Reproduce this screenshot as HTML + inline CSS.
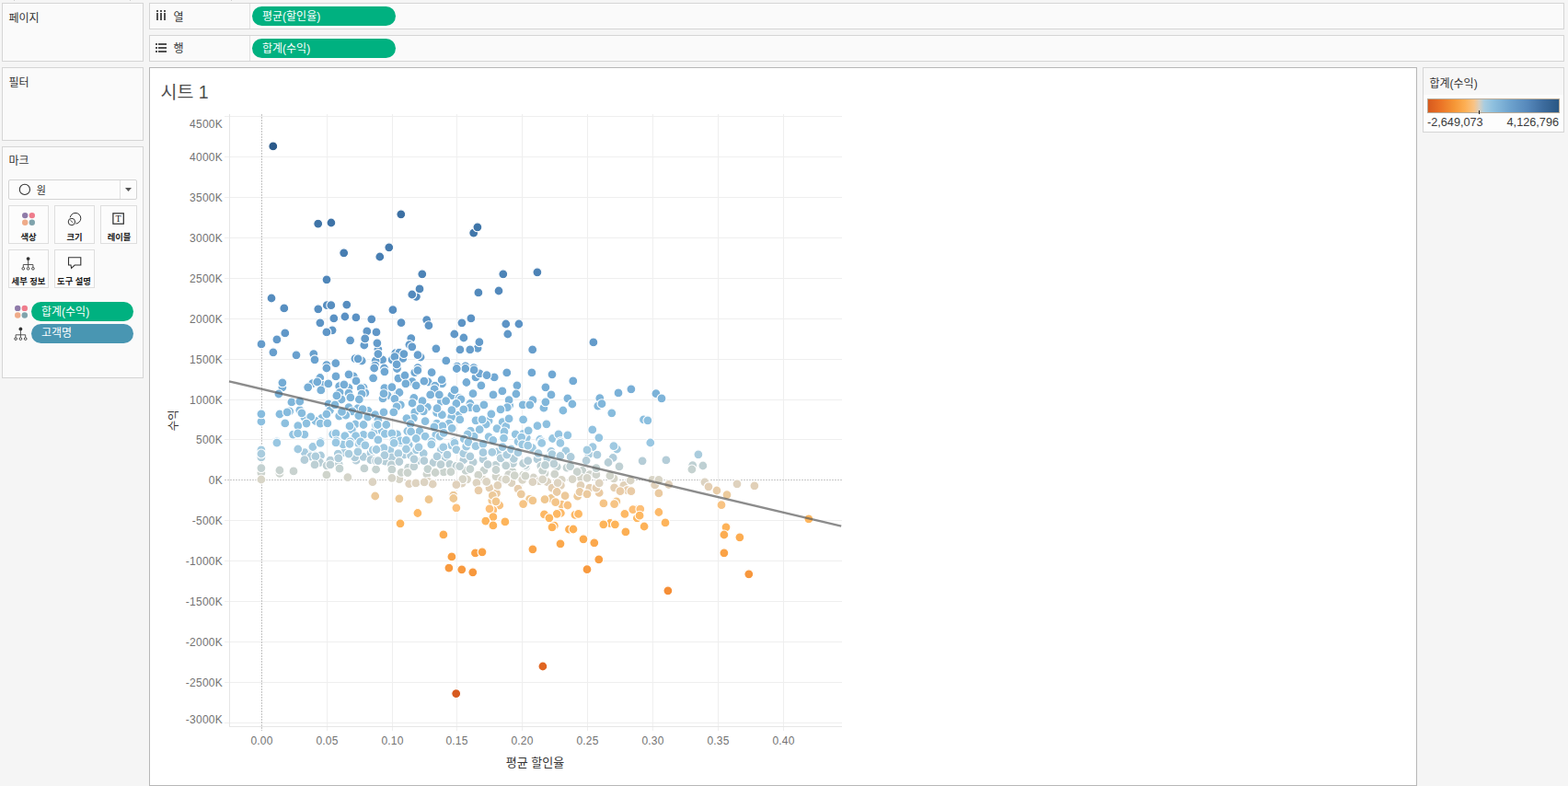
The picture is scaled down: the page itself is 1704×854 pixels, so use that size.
<!DOCTYPE html><html><head><meta charset="utf-8"><title>Tableau</title><style>
html,body{margin:0;padding:0}
body{width:1704px;height:854px;background:#f5f5f5;position:relative;overflow:hidden;font-family:"Liberation Sans","Noto Sans CJK KR",sans-serif;color:#333}
.p{position:absolute;box-sizing:border-box;background:#fafafa;border:1px solid #d5d5d5}
.btn{position:absolute;box-sizing:border-box;width:44px;height:42px;background:#fcfcfc;border:1px solid #dedede}
.pill{position:absolute;border-radius:11px}
svg{position:absolute;left:0;top:0}
text{font-family:"Liberation Sans","Noto Sans CJK KR",sans-serif}

</style></head><body>
<div class="p" style="left:2px;top:3px;width:154px;height:64px;"></div>
<div class="p" style="left:2px;top:73px;width:154px;height:80px;"></div>
<div class="p" style="left:2px;top:159px;width:154px;height:252px;"></div>
<div class="p" style="left:162px;top:3px;width:1538px;height:29px;"></div>
<div class="p" style="left:162px;top:38px;width:1538px;height:29px;"></div>
<div style="position:absolute;left:271px;top:4px;width:1px;height:27px;background:#e1e1e1"></div>
<div style="position:absolute;left:271px;top:39px;width:1px;height:27px;background:#e1e1e1"></div>
<div class="p" style="left:162px;top:73px;width:1378px;height:781px;background:#fff;border-color:#b7b7b7"></div>
<div class="p" style="left:1546px;top:73px;width:154px;height:71px;background:#fdfdfd"></div>
<div style="position:absolute;left:1547px;top:74px;width:152px;height:29px;background:#f7f7f7"></div>
<div style="position:absolute;left:15px;top:0;width:1px;height:1px;background:#cfcfcf"></div>
<div style="position:absolute;left:141px;top:0;width:1px;height:1px;background:#cfcfcf"></div>
<div style="position:absolute;left:251px;top:0;width:1px;height:1px;background:#cfcfcf"></div>
<div class="pill" style="left:274px;top:7px;width:156px;height:21px;background:#00b180;border-radius:10.5px"></div>
<div class="pill" style="left:274px;top:42px;width:156px;height:21px;background:#00b180;border-radius:10.5px"></div>
<div class="pill" style="left:34px;top:328px;width:111px;height:21px;background:#00b180;border-radius:10.5px"></div>
<div class="pill" style="left:34px;top:352px;width:111px;height:21px;background:#4996b2;border-radius:10.5px"></div>
<div style="position:absolute;box-sizing:border-box;left:9px;top:195px;width:140px;height:22px;background:#fcfcfc;border:1px solid #d4d4d4;border-radius:2px"></div>
<div style="position:absolute;left:130px;top:196px;width:1px;height:20px;background:#e0e0e0"></div>
<div class="btn" style="left:9px;top:223px;width:44px"></div>
<div class="btn" style="left:59px;top:223px;width:44px"></div>
<div class="btn" style="left:109px;top:223px;width:40px"></div>
<div class="btn" style="left:9px;top:271px;width:44px"></div>
<div class="btn" style="left:59px;top:271px;width:44px"></div>
<div style="position:absolute;box-sizing:border-box;left:1551px;top:107px;width:144px;height:16px;border:1px solid #b9ab98;background:linear-gradient(to right,#d75a1e 0%,#ea7125 9%,#f59636 20%,#fdae52 28%,#f9c384 35%,#d9cfbf 39.1%,#a9cde0 43%,#8dbfde 50%,#6da2cd 63%,#5688bb 76%,#3d6c9e 88%,#2a5783 100%)"></div>
<div style="position:absolute;left:1607px;top:120px;width:1px;height:4px;background:#222"></div>
<svg width="1704" height="854" viewBox="0 0 1704 854">
<path d="M244 785.5H915" stroke="#efefef" stroke-width="1"/>
<path d="M244 741.5H915" stroke="#efefef" stroke-width="1"/>
<path d="M244 697.5H915" stroke="#efefef" stroke-width="1"/>
<path d="M244 653.5H915" stroke="#efefef" stroke-width="1"/>
<path d="M244 609.5H915" stroke="#efefef" stroke-width="1"/>
<path d="M244 565.5H915" stroke="#efefef" stroke-width="1"/>
<path d="M244 477.5H915" stroke="#efefef" stroke-width="1"/>
<path d="M244 434.5H915" stroke="#efefef" stroke-width="1"/>
<path d="M244 390.5H915" stroke="#efefef" stroke-width="1"/>
<path d="M244 346.5H915" stroke="#efefef" stroke-width="1"/>
<path d="M244 302.5H915" stroke="#efefef" stroke-width="1"/>
<path d="M244 258.5H915" stroke="#efefef" stroke-width="1"/>
<path d="M244 214.5H915" stroke="#efefef" stroke-width="1"/>
<path d="M244 170.5H915" stroke="#efefef" stroke-width="1"/>
<path d="M244 126.5H915" stroke="#efefef" stroke-width="1"/>
<path d="M355.5 124V794" stroke="#efefef" stroke-width="1"/>
<path d="M426.5 124V794" stroke="#efefef" stroke-width="1"/>
<path d="M496.5 124V794" stroke="#efefef" stroke-width="1"/>
<path d="M567.5 124V794" stroke="#efefef" stroke-width="1"/>
<path d="M638.5 124V794" stroke="#efefef" stroke-width="1"/>
<path d="M709.5 124V794" stroke="#efefef" stroke-width="1"/>
<path d="M780.5 124V794" stroke="#efefef" stroke-width="1"/>
<path d="M851.5 124V794" stroke="#efefef" stroke-width="1"/>
<path d="M249.5 124V789" stroke="#e6e6e6" stroke-width="1"/>
<path d="M249 789.5H915" stroke="#e6e6e6" stroke-width="1"/>
<path d="M284.5 124V794" stroke="#c2c2c2" stroke-width="1" stroke-dasharray="2 1"/>
<path d="M244 521.5H915" stroke="#c8c8c8" stroke-width="1" stroke-dasharray="2 1"/>
<text x="242" y="785.6" font-size="12" fill="#737373" text-anchor="end" letter-spacing="0.25">-3000K</text>
<text x="242" y="746.1" font-size="12" fill="#737373" text-anchor="end" letter-spacing="0.25">-2500K</text>
<text x="242" y="702.1" font-size="12" fill="#737373" text-anchor="end" letter-spacing="0.25">-2000K</text>
<text x="242" y="658.1" font-size="12" fill="#737373" text-anchor="end" letter-spacing="0.25">-1500K</text>
<text x="242" y="614.1" font-size="12" fill="#737373" text-anchor="end" letter-spacing="0.25">-1000K</text>
<text x="242" y="570.1" font-size="12" fill="#737373" text-anchor="end" letter-spacing="0.25">-500K</text>
<text x="242" y="526.1" font-size="12" fill="#737373" text-anchor="end" letter-spacing="0.25">0K</text>
<text x="242" y="482.1" font-size="12" fill="#737373" text-anchor="end" letter-spacing="0.25">500K</text>
<text x="242" y="439.1" font-size="12" fill="#737373" text-anchor="end" letter-spacing="0.25">1000K</text>
<text x="242" y="395.1" font-size="12" fill="#737373" text-anchor="end" letter-spacing="0.25">1500K</text>
<text x="242" y="351.1" font-size="12" fill="#737373" text-anchor="end" letter-spacing="0.25">2000K</text>
<text x="242" y="307.1" font-size="12" fill="#737373" text-anchor="end" letter-spacing="0.25">2500K</text>
<text x="242" y="263.1" font-size="12" fill="#737373" text-anchor="end" letter-spacing="0.25">3000K</text>
<text x="242" y="219.1" font-size="12" fill="#737373" text-anchor="end" letter-spacing="0.25">3500K</text>
<text x="242" y="175.1" font-size="12" fill="#737373" text-anchor="end" letter-spacing="0.25">4000K</text>
<text x="242" y="138.6" font-size="12" fill="#737373" text-anchor="end" letter-spacing="0.25">4500K</text>
<text x="284.5" y="809" font-size="12" fill="#737373" text-anchor="middle" letter-spacing="0.2">0.00</text>
<text x="355.5" y="809" font-size="12" fill="#737373" text-anchor="middle" letter-spacing="0.2">0.05</text>
<text x="426.5" y="809" font-size="12" fill="#737373" text-anchor="middle" letter-spacing="0.2">0.10</text>
<text x="496.5" y="809" font-size="12" fill="#737373" text-anchor="middle" letter-spacing="0.2">0.15</text>
<text x="567.5" y="809" font-size="12" fill="#737373" text-anchor="middle" letter-spacing="0.2">0.20</text>
<text x="638.5" y="809" font-size="12" fill="#737373" text-anchor="middle" letter-spacing="0.2">0.25</text>
<text x="709.5" y="809" font-size="12" fill="#737373" text-anchor="middle" letter-spacing="0.2">0.30</text>
<text x="780.5" y="809" font-size="12" fill="#737373" text-anchor="middle" letter-spacing="0.2">0.35</text>
<text x="851.5" y="809" font-size="12" fill="#737373" text-anchor="middle" letter-spacing="0.2">0.40</text>
<g stroke="#fff" stroke-width="1.1">
<circle cx="514.7" cy="253.1" r="4.95" fill="#4177aa"/>
<circle cx="355.3" cy="331.7" r="4.95" fill="#578ec0"/>
<circle cx="452.4" cy="322.3" r="4.95" fill="#548bbe"/>
<circle cx="463.7" cy="347.6" r="4.95" fill="#5c93c4"/>
<circle cx="361.1" cy="358.8" r="4.95" fill="#5f97c7"/>
<circle cx="340.8" cy="384.6" r="4.95" fill="#68a0cd"/>
<circle cx="398.8" cy="359.9" r="4.95" fill="#6097c7"/>
<circle cx="395.8" cy="375.0" r="4.95" fill="#659ccb"/>
<circle cx="410.9" cy="379.5" r="4.95" fill="#679ecc"/>
<circle cx="415.6" cy="390.8" r="4.95" fill="#6aa2cf"/>
<circle cx="408.1" cy="392.0" r="4.95" fill="#6ba3cf"/>
<circle cx="385.9" cy="389.7" r="4.95" fill="#6aa2cf"/>
<circle cx="393.2" cy="392.0" r="4.95" fill="#6ba3cf"/>
<circle cx="446.8" cy="367.6" r="4.95" fill="#629ac9"/>
<circle cx="444.9" cy="374.6" r="4.95" fill="#659ccb"/>
<circle cx="429.8" cy="383.6" r="4.95" fill="#68a0cd"/>
<circle cx="433.9" cy="383.2" r="4.95" fill="#689fcd"/>
<circle cx="426.1" cy="390.8" r="4.95" fill="#6aa2cf"/>
<circle cx="437.8" cy="389.4" r="4.95" fill="#6aa2cf"/>
<circle cx="457.1" cy="388.0" r="4.95" fill="#69a1ce"/>
<circle cx="417.5" cy="400.0" r="4.95" fill="#6ea5d1"/>
<circle cx="519.1" cy="378.3" r="4.95" fill="#669ecc"/>
<circle cx="306.9" cy="420.8" r="4.95" fill="#77aed6"/>
<circle cx="283.9" cy="458.0" r="4.95" fill="#8cbfdf"/>
<circle cx="314.7" cy="446.9" r="4.95" fill="#86bbdd"/>
<circle cx="325.8" cy="445.7" r="4.95" fill="#85badd"/>
<circle cx="330.9" cy="453.5" r="4.95" fill="#89bede"/>
<circle cx="318.5" cy="472.1" r="4.95" fill="#94c4e1"/>
<circle cx="330.9" cy="472.1" r="4.95" fill="#94c4e1"/>
<circle cx="347.8" cy="410.5" r="4.95" fill="#72aad4"/>
<circle cx="339.6" cy="416.7" r="4.95" fill="#75add5"/>
<circle cx="351.3" cy="418.3" r="4.95" fill="#76add6"/>
<circle cx="384.2" cy="408.9" r="4.95" fill="#71a9d3"/>
<circle cx="387.0" cy="413.9" r="4.95" fill="#74abd5"/>
<circle cx="368.7" cy="419.7" r="4.95" fill="#77aed6"/>
<circle cx="379.0" cy="421.4" r="4.95" fill="#78afd7"/>
<circle cx="395.0" cy="421.1" r="4.95" fill="#78afd6"/>
<circle cx="396.9" cy="426.8" r="4.95" fill="#7bb1d8"/>
<circle cx="369.2" cy="426.3" r="4.95" fill="#7ab1d8"/>
<circle cx="371.1" cy="434.0" r="4.95" fill="#7fb5da"/>
<circle cx="379.0" cy="427.2" r="4.95" fill="#7bb2d8"/>
<circle cx="357.0" cy="439.0" r="4.95" fill="#81b7db"/>
<circle cx="379.0" cy="442.7" r="4.95" fill="#83b9dc"/>
<circle cx="388.9" cy="443.7" r="4.95" fill="#84b9dc"/>
<circle cx="400.2" cy="446.5" r="4.95" fill="#85bbdd"/>
<circle cx="382.8" cy="446.9" r="4.95" fill="#86bbdd"/>
<circle cx="368.7" cy="452.1" r="4.95" fill="#89bdde"/>
<circle cx="375.8" cy="451.2" r="4.95" fill="#88bdde"/>
<circle cx="358.4" cy="446.0" r="4.95" fill="#85bbdd"/>
<circle cx="349.5" cy="454.5" r="4.95" fill="#8abede"/>
<circle cx="342.9" cy="457.3" r="4.95" fill="#8bbfdf"/>
<circle cx="348.1" cy="460.1" r="4.95" fill="#8dc0df"/>
<circle cx="386.1" cy="461.0" r="4.95" fill="#8dc0df"/>
<circle cx="382.3" cy="466.7" r="4.95" fill="#91c2e0"/>
<circle cx="361.7" cy="471.8" r="4.95" fill="#93c4e1"/>
<circle cx="395.0" cy="472.3" r="4.95" fill="#94c4e1"/>
<circle cx="407.7" cy="467.6" r="4.95" fill="#91c3e0"/>
<circle cx="431.5" cy="400.5" r="4.95" fill="#6ea6d1"/>
<circle cx="432.9" cy="411.1" r="4.95" fill="#72aad4"/>
<circle cx="448.0" cy="414.6" r="4.95" fill="#74acd5"/>
<circle cx="452.2" cy="418.8" r="4.95" fill="#76aed6"/>
<circle cx="450.8" cy="404.7" r="4.95" fill="#6fa7d2"/>
<circle cx="465.2" cy="415.0" r="4.95" fill="#74acd5"/>
<circle cx="480.4" cy="416.9" r="4.95" fill="#75add5"/>
<circle cx="472.8" cy="419.2" r="4.95" fill="#77aed6"/>
<circle cx="490.9" cy="429.6" r="4.95" fill="#7cb3d9"/>
<circle cx="417.9" cy="421.6" r="4.95" fill="#78afd7"/>
<circle cx="421.2" cy="429.6" r="4.95" fill="#7cb3d9"/>
<circle cx="416.0" cy="432.9" r="4.95" fill="#7eb4d9"/>
<circle cx="432.5" cy="427.7" r="4.95" fill="#7bb2d8"/>
<circle cx="434.0" cy="426.5" r="4.95" fill="#7bb1d8"/>
<circle cx="435.3" cy="439.9" r="4.95" fill="#82b8db"/>
<circle cx="449.8" cy="432.4" r="4.95" fill="#7eb4d9"/>
<circle cx="464.4" cy="442.3" r="4.95" fill="#83b9dc"/>
<circle cx="450.8" cy="447.9" r="4.95" fill="#86bbdd"/>
<circle cx="460.2" cy="446.9" r="4.95" fill="#86bbdd"/>
<circle cx="474.7" cy="448.4" r="4.95" fill="#86bcdd"/>
<circle cx="480.4" cy="450.7" r="4.95" fill="#88bdde"/>
<circle cx="479.4" cy="436.2" r="4.95" fill="#80b6da"/>
<circle cx="499.1" cy="432.4" r="4.95" fill="#7eb4d9"/>
<circle cx="501.0" cy="433.8" r="4.95" fill="#7fb5da"/>
<circle cx="497.7" cy="451.2" r="4.95" fill="#88bdde"/>
<circle cx="490.7" cy="453.1" r="4.95" fill="#89bede"/>
<circle cx="510.9" cy="438.5" r="4.95" fill="#81b7db"/>
<circle cx="510.9" cy="442.7" r="4.95" fill="#83b9dc"/>
<circle cx="517.0" cy="409.9" r="4.95" fill="#71a9d4"/>
<circle cx="521.2" cy="405.8" r="4.95" fill="#70a7d3"/>
<circle cx="537.2" cy="409.9" r="4.95" fill="#71a9d4"/>
<circle cx="553.6" cy="440.4" r="4.95" fill="#82b8db"/>
<circle cx="517.0" cy="456.8" r="4.95" fill="#8bbfdf"/>
<circle cx="531.1" cy="457.3" r="4.95" fill="#8bbfdf"/>
<circle cx="528.2" cy="461.0" r="4.95" fill="#8dc0df"/>
<circle cx="546.1" cy="458.7" r="4.95" fill="#8cc0df"/>
<circle cx="549.8" cy="463.4" r="4.95" fill="#8fc1e0"/>
<circle cx="511.3" cy="468.1" r="4.95" fill="#91c3e0"/>
<circle cx="515.1" cy="474.2" r="4.95" fill="#95c5e1"/>
<circle cx="487.9" cy="460.1" r="4.95" fill="#8dc0df"/>
<circle cx="474.7" cy="460.1" r="4.95" fill="#8dc0df"/>
<circle cx="449.4" cy="454.5" r="4.95" fill="#8abede"/>
<circle cx="442.8" cy="468.5" r="4.95" fill="#92c3e0"/>
<circle cx="456.0" cy="468.5" r="4.95" fill="#92c3e0"/>
<circle cx="473.8" cy="472.3" r="4.95" fill="#94c4e1"/>
<circle cx="478.0" cy="474.2" r="4.95" fill="#95c5e1"/>
<circle cx="431.5" cy="471.8" r="4.95" fill="#93c4e1"/>
<circle cx="415.1" cy="468.1" r="4.95" fill="#91c3e0"/>
<circle cx="616.9" cy="432.9" r="4.95" fill="#7eb4d9"/>
<circle cx="579.0" cy="434.7" r="4.95" fill="#7fb5da"/>
<circle cx="590.9" cy="443.2" r="4.95" fill="#84b9dc"/>
<circle cx="572.3" cy="475.6" r="4.95" fill="#95c5e1"/>
<circle cx="600.5" cy="476.5" r="4.95" fill="#96c6e1"/>
<circle cx="586.8" cy="477.5" r="4.95" fill="#97c6e2"/>
<circle cx="651.8" cy="432.7" r="4.95" fill="#7eb4d9"/>
<circle cx="649.8" cy="441.1" r="4.95" fill="#82b8db"/>
<circle cx="712.9" cy="427.7" r="4.95" fill="#7bb2d8"/>
<circle cx="699.5" cy="455.9" r="4.95" fill="#8bbfdf"/>
<circle cx="283.9" cy="513.8" r="4.95" fill="#ccd3cd"/>
<circle cx="283.9" cy="496.9" r="4.95" fill="#afccda"/>
<circle cx="283.9" cy="488.9" r="4.95" fill="#a3cbe0"/>
<circle cx="303.9" cy="514.3" r="4.95" fill="#ccd3cd"/>
<circle cx="331.2" cy="491.7" r="4.95" fill="#a7cbdf"/>
<circle cx="339.6" cy="487.5" r="4.95" fill="#a1cae0"/>
<circle cx="339.9" cy="485.5" r="4.95" fill="#9fc9e1"/>
<circle cx="337.7" cy="496.0" r="4.95" fill="#aeccdb"/>
<circle cx="348.5" cy="495.0" r="4.95" fill="#acccdc"/>
<circle cx="347.6" cy="502.5" r="4.95" fill="#b8ced6"/>
<circle cx="355.1" cy="505.8" r="4.95" fill="#bed0d3"/>
<circle cx="358.9" cy="500.2" r="4.95" fill="#b4cdd8"/>
<circle cx="368.2" cy="504.4" r="4.95" fill="#bbcfd4"/>
<circle cx="369.0" cy="509.1" r="4.95" fill="#c3d2d1"/>
<circle cx="387.0" cy="500.2" r="4.95" fill="#b4cdd8"/>
<circle cx="395.0" cy="496.4" r="4.95" fill="#aeccdb"/>
<circle cx="385.6" cy="496.9" r="4.95" fill="#afccda"/>
<circle cx="373.9" cy="491.7" r="4.95" fill="#a7cbdf"/>
<circle cx="372.9" cy="482.8" r="4.95" fill="#9bc8e1"/>
<circle cx="389.8" cy="481.9" r="4.95" fill="#9ac8e2"/>
<circle cx="403.0" cy="492.2" r="4.95" fill="#a8cbde"/>
<circle cx="367.3" cy="493.1" r="4.95" fill="#a9ccdd"/>
<circle cx="424.0" cy="489.4" r="4.95" fill="#a3cbe0"/>
<circle cx="435.3" cy="480.9" r="4.95" fill="#99c7e2"/>
<circle cx="444.2" cy="483.3" r="4.95" fill="#9cc8e1"/>
<circle cx="439.0" cy="494.1" r="4.95" fill="#abccdd"/>
<circle cx="418.4" cy="501.1" r="4.95" fill="#b6ced7"/>
<circle cx="425.9" cy="496.9" r="4.95" fill="#afccda"/>
<circle cx="425.4" cy="504.9" r="4.95" fill="#bccfd4"/>
<circle cx="433.9" cy="520.6" r="4.95" fill="#d7d5c8"/>
<circle cx="436.2" cy="513.3" r="4.95" fill="#cbd3cd"/>
<circle cx="443.7" cy="508.2" r="4.95" fill="#c2d1d1"/>
<circle cx="453.1" cy="501.1" r="4.95" fill="#b6ced7"/>
<circle cx="446.6" cy="495.0" r="4.95" fill="#acccdc"/>
<circle cx="452.7" cy="488.9" r="4.95" fill="#a3cbe0"/>
<circle cx="460.2" cy="492.7" r="4.95" fill="#a9ccde"/>
<circle cx="479.4" cy="488.5" r="4.95" fill="#a2cae0"/>
<circle cx="484.1" cy="496.9" r="4.95" fill="#afccda"/>
<circle cx="490.7" cy="483.8" r="4.95" fill="#9cc8e1"/>
<circle cx="471.0" cy="502.5" r="4.95" fill="#b8ced6"/>
<circle cx="488.8" cy="504.4" r="4.95" fill="#bbcfd4"/>
<circle cx="463.9" cy="515.2" r="4.95" fill="#ced3cc"/>
<circle cx="482.2" cy="512.9" r="4.95" fill="#cad3ce"/>
<circle cx="495.9" cy="506.3" r="4.95" fill="#bfd0d3"/>
<circle cx="503.8" cy="499.7" r="4.95" fill="#b4cdd8"/>
<circle cx="540.5" cy="490.8" r="4.95" fill="#a5cbdf"/>
<circle cx="525.0" cy="498.8" r="4.95" fill="#b2cdd9"/>
<circle cx="514.2" cy="502.1" r="4.95" fill="#b8ced6"/>
<circle cx="506.2" cy="511.5" r="4.95" fill="#c7d2cf"/>
<circle cx="525.9" cy="511.0" r="4.95" fill="#c7d2cf"/>
<circle cx="538.6" cy="505.4" r="4.95" fill="#bdd0d4"/>
<circle cx="539.0" cy="517.6" r="4.95" fill="#d2d4ca"/>
<circle cx="507.6" cy="520.8" r="4.95" fill="#d8d5c8"/>
<circle cx="502.0" cy="525.1" r="4.95" fill="#ded3c0"/>
<circle cx="525.4" cy="521.3" r="4.95" fill="#d9d5c7"/>
<circle cx="532.0" cy="530.2" r="4.95" fill="#e4ceb1"/>
<circle cx="539.5" cy="535.9" r="4.95" fill="#eacaa1"/>
<circle cx="534.8" cy="543.8" r="4.95" fill="#f1c68d"/>
<circle cx="542.8" cy="549.0" r="4.95" fill="#f8c281"/>
<circle cx="535.8" cy="554.2" r="4.95" fill="#fdbd73"/>
<circle cx="492.8" cy="538.2" r="4.95" fill="#ecc99b"/>
<circle cx="444.7" cy="525.7" r="4.95" fill="#dfd2be"/>
<circle cx="465.3" cy="523.4" r="4.95" fill="#dcd4c3"/>
<circle cx="470.2" cy="526.0" r="4.95" fill="#dfd2be"/>
<circle cx="545.6" cy="521.3" r="4.95" fill="#d9d5c7"/>
<circle cx="555.9" cy="524.6" r="4.95" fill="#ddd3c1"/>
<circle cx="556.9" cy="512.4" r="4.95" fill="#c9d3ce"/>
<circle cx="552.7" cy="515.7" r="4.95" fill="#cfd3cc"/>
<circle cx="568.6" cy="516.2" r="4.95" fill="#d0d4cb"/>
<circle cx="563.0" cy="531.2" r="4.95" fill="#e6cdae"/>
<circle cx="557.4" cy="503.5" r="4.95" fill="#bacfd5"/>
<circle cx="544.2" cy="497.8" r="4.95" fill="#b1cdda"/>
<circle cx="578.4" cy="486.6" r="4.95" fill="#a0cae1"/>
<circle cx="584.0" cy="498.8" r="4.95" fill="#b2cdd9"/>
<circle cx="571.8" cy="507.2" r="4.95" fill="#c0d1d2"/>
<circle cx="571.0" cy="505.5" r="4.95" fill="#bdd0d4"/>
<circle cx="599.0" cy="490.3" r="4.95" fill="#a5cbe0"/>
<circle cx="615.0" cy="489.9" r="4.95" fill="#a4cbe0"/>
<circle cx="594.8" cy="497.8" r="4.95" fill="#b1cdda"/>
<circle cx="587.8" cy="506.3" r="4.95" fill="#bfd0d3"/>
<circle cx="605.2" cy="507.2" r="4.95" fill="#c0d1d2"/>
<circle cx="616.0" cy="508.2" r="4.95" fill="#c2d1d1"/>
<circle cx="632.9" cy="511.5" r="4.95" fill="#c7d2cf"/>
<circle cx="592.0" cy="514.3" r="4.95" fill="#ccd3cd"/>
<circle cx="589.7" cy="511.5" r="4.95" fill="#c7d2cf"/>
<circle cx="602.8" cy="515.2" r="4.95" fill="#ced3cc"/>
<circle cx="579.8" cy="519.0" r="4.95" fill="#d5d4c9"/>
<circle cx="585.9" cy="522.7" r="4.95" fill="#dbd4c5"/>
<circle cx="594.8" cy="523.7" r="4.95" fill="#dcd3c2"/>
<circle cx="610.3" cy="521.3" r="4.95" fill="#d9d5c7"/>
<circle cx="631.0" cy="519.0" r="4.95" fill="#d5d4c9"/>
<circle cx="640.8" cy="515.7" r="4.95" fill="#cfd3cc"/>
<circle cx="600.0" cy="530.2" r="4.95" fill="#e4ceb1"/>
<circle cx="609.4" cy="527.4" r="4.95" fill="#e1d1b9"/>
<circle cx="627.7" cy="539.2" r="4.95" fill="#ecc998"/>
<circle cx="640.8" cy="530.2" r="4.95" fill="#e4ceb1"/>
<circle cx="651.2" cy="535.4" r="4.95" fill="#eacaa2"/>
<circle cx="647.9" cy="515.7" r="4.95" fill="#cfd3cc"/>
<circle cx="644.1" cy="485.6" r="4.95" fill="#9fc9e1"/>
<circle cx="639.9" cy="493.6" r="4.95" fill="#aaccdd"/>
<circle cx="670.4" cy="488.0" r="4.95" fill="#a2cae0"/>
<circle cx="666.2" cy="497.4" r="4.95" fill="#b0ccda"/>
<circle cx="667.1" cy="519.9" r="4.95" fill="#d6d5c8"/>
<circle cx="677.9" cy="527.4" r="4.95" fill="#e1d1b9"/>
<circle cx="681.7" cy="532.6" r="4.95" fill="#e7ccaa"/>
<circle cx="708.9" cy="521.3" r="4.95" fill="#d9d5c7"/>
<circle cx="711.7" cy="526.9" r="4.95" fill="#e0d1bb"/>
<circle cx="669.9" cy="544.8" r="4.95" fill="#f2c68b"/>
<circle cx="691.5" cy="553.7" r="4.95" fill="#fdbe75"/>
<circle cx="687.8" cy="553.7" r="4.95" fill="#fdbe75"/>
<circle cx="575.6" cy="542.4" r="4.95" fill="#efc790"/>
<circle cx="599.0" cy="541.5" r="4.95" fill="#eec893"/>
<circle cx="610.3" cy="548.1" r="4.95" fill="#f7c383"/>
<circle cx="609.4" cy="557.5" r="4.95" fill="#fdb966"/>
<circle cx="624.9" cy="559.3" r="4.95" fill="#fdb864"/>
<circle cx="752.7" cy="505.7" r="4.95" fill="#bed0d3"/>
<circle cx="765.9" cy="523.8" r="4.95" fill="#dcd3c2"/>
<circle cx="789.0" cy="572.8" r="4.95" fill="#fdb258"/>
<circle cx="692.4" cy="562.9" r="4.95" fill="#fdb760"/>
<circle cx="602.3" cy="571.2" r="4.95" fill="#fdb359"/>
<circle cx="516.5" cy="600.9" r="4.95" fill="#faa246"/>
<circle cx="663.0" cy="568.5" r="4.95" fill="#fdb45a"/>
<circle cx="668.4" cy="569.8" r="4.95" fill="#fdb459"/>
<circle cx="296.8" cy="158.9" r="4.95" fill="#2b5a8a"/>
<circle cx="345.7" cy="243.1" r="4.95" fill="#3f74a7"/>
<circle cx="359.9" cy="242.0" r="4.95" fill="#3e73a7"/>
<circle cx="435.8" cy="232.8" r="4.95" fill="#3c70a3"/>
<circle cx="518.9" cy="246.8" r="4.95" fill="#3f75a8"/>
<circle cx="422.8" cy="268.8" r="4.95" fill="#457baf"/>
<circle cx="373.7" cy="274.8" r="4.95" fill="#477db1"/>
<circle cx="412.8" cy="279.0" r="4.95" fill="#487eb2"/>
<circle cx="458.8" cy="297.8" r="4.95" fill="#4d84b7"/>
<circle cx="546.8" cy="297.8" r="4.95" fill="#4d84b7"/>
<circle cx="583.9" cy="295.8" r="4.95" fill="#4d83b6"/>
<circle cx="355.0" cy="303.8" r="4.95" fill="#4f86b9"/>
<circle cx="295.0" cy="324.0" r="4.95" fill="#558cbe"/>
<circle cx="308.8" cy="334.9" r="4.95" fill="#588fc1"/>
<circle cx="345.8" cy="335.8" r="4.95" fill="#588fc1"/>
<circle cx="359.8" cy="331.7" r="4.95" fill="#578ec0"/>
<circle cx="376.8" cy="331.1" r="4.95" fill="#578ec0"/>
<circle cx="456.0" cy="313.9" r="4.95" fill="#5289bb"/>
<circle cx="447.8" cy="320.0" r="4.95" fill="#548abd"/>
<circle cx="426.9" cy="336.7" r="4.95" fill="#588fc2"/>
<circle cx="362.8" cy="345.9" r="4.95" fill="#5b92c4"/>
<circle cx="374.9" cy="344.0" r="4.95" fill="#5b91c4"/>
<circle cx="386.9" cy="344.9" r="4.95" fill="#5b92c4"/>
<circle cx="403.8" cy="346.8" r="4.95" fill="#5b92c4"/>
<circle cx="347.9" cy="350.8" r="4.95" fill="#5d94c5"/>
<circle cx="436.0" cy="350.7" r="4.95" fill="#5d94c5"/>
<circle cx="465.9" cy="353.7" r="4.95" fill="#5e95c6"/>
<circle cx="354.9" cy="360.9" r="4.95" fill="#6097c8"/>
<circle cx="309.8" cy="361.9" r="4.95" fill="#6198c8"/>
<circle cx="300.9" cy="368.9" r="4.95" fill="#639aca"/>
<circle cx="284.0" cy="373.9" r="4.95" fill="#659ccb"/>
<circle cx="296.9" cy="382.8" r="4.95" fill="#689fcd"/>
<circle cx="322.0" cy="385.8" r="4.95" fill="#69a0ce"/>
<circle cx="342.0" cy="390.8" r="4.95" fill="#6aa2cf"/>
<circle cx="380.6" cy="369.8" r="4.95" fill="#639bca"/>
<circle cx="396.7" cy="367.9" r="4.95" fill="#639ac9"/>
<circle cx="409.0" cy="360.9" r="4.95" fill="#6097c8"/>
<circle cx="409.9" cy="372.8" r="4.95" fill="#649ccb"/>
<circle cx="410.9" cy="384.6" r="4.95" fill="#68a0cd"/>
<circle cx="407.6" cy="397.2" r="4.95" fill="#6da4d1"/>
<circle cx="389.1" cy="389.8" r="4.95" fill="#6aa2cf"/>
<circle cx="364.8" cy="394.7" r="4.95" fill="#6ca4d0"/>
<circle cx="354.9" cy="396.7" r="4.95" fill="#6ca4d0"/>
<circle cx="447.8" cy="376.8" r="4.95" fill="#669dcc"/>
<circle cx="438.9" cy="384.6" r="4.95" fill="#68a0cd"/>
<circle cx="428.9" cy="387.7" r="4.95" fill="#69a1ce"/>
<circle cx="431.1" cy="395.9" r="4.95" fill="#6ca4d0"/>
<circle cx="454.0" cy="385.7" r="4.95" fill="#69a0ce"/>
<circle cx="454.0" cy="399.7" r="4.95" fill="#6da5d1"/>
<circle cx="519.9" cy="317.9" r="4.95" fill="#538abc"/>
<circle cx="542.0" cy="316.0" r="4.95" fill="#5389bc"/>
<circle cx="511.9" cy="345.9" r="4.95" fill="#5b92c4"/>
<circle cx="501.9" cy="350.8" r="4.95" fill="#5d94c5"/>
<circle cx="549.8" cy="352.0" r="4.95" fill="#5d94c6"/>
<circle cx="563.9" cy="352.0" r="4.95" fill="#5d94c6"/>
<circle cx="493.8" cy="363.0" r="4.95" fill="#6198c8"/>
<circle cx="503.9" cy="367.0" r="4.95" fill="#629ac9"/>
<circle cx="551.8" cy="363.0" r="4.95" fill="#6198c8"/>
<circle cx="520.9" cy="371.7" r="4.95" fill="#649bca"/>
<circle cx="473.9" cy="378.8" r="4.95" fill="#669ecc"/>
<circle cx="499.9" cy="379.9" r="4.95" fill="#679ecc"/>
<circle cx="510.8" cy="379.9" r="4.95" fill="#679ecc"/>
<circle cx="578.7" cy="379.9" r="4.95" fill="#679ecc"/>
<circle cx="644.9" cy="371.9" r="4.95" fill="#649bca"/>
<circle cx="484.8" cy="391.9" r="4.95" fill="#6ba3cf"/>
<circle cx="496.8" cy="398.2" r="4.95" fill="#6da5d1"/>
<circle cx="505.8" cy="397.8" r="4.95" fill="#6da5d1"/>
<circle cx="514.8" cy="399.7" r="4.95" fill="#6da5d1"/>
<circle cx="306.9" cy="415.8" r="4.95" fill="#75acd5"/>
<circle cx="302.9" cy="428.0" r="4.95" fill="#7bb2d8"/>
<circle cx="316.9" cy="436.9" r="4.95" fill="#80b6da"/>
<circle cx="325.8" cy="436.2" r="4.95" fill="#80b6da"/>
<circle cx="283.9" cy="449.8" r="4.95" fill="#87bcde"/>
<circle cx="303.9" cy="450.0" r="4.95" fill="#87bcde"/>
<circle cx="312.1" cy="447.9" r="4.95" fill="#86bbdd"/>
<circle cx="309.8" cy="459.9" r="4.95" fill="#8dc0df"/>
<circle cx="327.9" cy="448.8" r="4.95" fill="#87bcdd"/>
<circle cx="337.7" cy="452.9" r="4.95" fill="#89bede"/>
<circle cx="333.0" cy="460.1" r="4.95" fill="#8dc0df"/>
<circle cx="323.8" cy="462.7" r="4.95" fill="#8ec1e0"/>
<circle cx="323.6" cy="470.9" r="4.95" fill="#93c4e1"/>
<circle cx="300.8" cy="479.8" r="4.95" fill="#98c7e2"/>
<circle cx="334.7" cy="420.8" r="4.95" fill="#77aed6"/>
<circle cx="344.8" cy="415.0" r="4.95" fill="#74acd5"/>
<circle cx="348.8" cy="423.9" r="4.95" fill="#79b0d7"/>
<circle cx="356.8" cy="416.9" r="4.95" fill="#75add5"/>
<circle cx="365.0" cy="408.9" r="4.95" fill="#71a9d3"/>
<circle cx="379.0" cy="406.8" r="4.95" fill="#70a8d3"/>
<circle cx="405.6" cy="410.8" r="4.95" fill="#72aad4"/>
<circle cx="354.9" cy="400.0" r="4.95" fill="#6ea5d1"/>
<circle cx="406.7" cy="400.0" r="4.95" fill="#6ea5d1"/>
<circle cx="373.9" cy="417.8" r="4.95" fill="#76add6"/>
<circle cx="392.2" cy="421.8" r="4.95" fill="#78afd7"/>
<circle cx="393.1" cy="428.2" r="4.95" fill="#7bb2d8"/>
<circle cx="365.9" cy="429.9" r="4.95" fill="#7cb3d9"/>
<circle cx="380.9" cy="431.9" r="4.95" fill="#7db4d9"/>
<circle cx="390.3" cy="434.0" r="4.95" fill="#7fb5da"/>
<circle cx="364.0" cy="439.9" r="4.95" fill="#82b8db"/>
<circle cx="394.1" cy="444.6" r="4.95" fill="#84badc"/>
<circle cx="371.5" cy="447.4" r="4.95" fill="#86bbdd"/>
<circle cx="354.9" cy="450.0" r="4.95" fill="#87bcde"/>
<circle cx="355.9" cy="459.9" r="4.95" fill="#8dc0df"/>
<circle cx="389.8" cy="451.6" r="4.95" fill="#88bdde"/>
<circle cx="399.7" cy="453.1" r="4.95" fill="#89bede"/>
<circle cx="407.7" cy="450.7" r="4.95" fill="#88bdde"/>
<circle cx="380.0" cy="462.9" r="4.95" fill="#8ec1e0"/>
<circle cx="395.0" cy="461.5" r="4.95" fill="#8ec1df"/>
<circle cx="365.0" cy="470.9" r="4.95" fill="#93c4e1"/>
<circle cx="374.8" cy="473.7" r="4.95" fill="#94c5e1"/>
<circle cx="386.6" cy="473.7" r="4.95" fill="#94c5e1"/>
<circle cx="403.9" cy="472.8" r="4.95" fill="#94c4e1"/>
<circle cx="408.6" cy="462.0" r="4.95" fill="#8ec1df"/>
<circle cx="365.4" cy="478.9" r="4.95" fill="#97c7e2"/>
<circle cx="348.5" cy="479.8" r="4.95" fill="#98c7e2"/>
<circle cx="380.5" cy="479.8" r="4.95" fill="#98c7e2"/>
<circle cx="391.7" cy="479.8" r="4.95" fill="#98c7e2"/>
<circle cx="417.9" cy="403.8" r="4.95" fill="#6fa7d2"/>
<circle cx="440.0" cy="408.0" r="4.95" fill="#70a8d3"/>
<circle cx="440.9" cy="416.9" r="4.95" fill="#75add5"/>
<circle cx="453.9" cy="402.3" r="4.95" fill="#6ea6d2"/>
<circle cx="469.1" cy="404.7" r="4.95" fill="#6fa7d2"/>
<circle cx="460.9" cy="414.1" r="4.95" fill="#74abd5"/>
<circle cx="480.1" cy="412.7" r="4.95" fill="#73abd4"/>
<circle cx="472.1" cy="422.8" r="4.95" fill="#79afd7"/>
<circle cx="467.7" cy="428.9" r="4.95" fill="#7cb2d8"/>
<circle cx="477.3" cy="428.9" r="4.95" fill="#7cb2d8"/>
<circle cx="494.0" cy="423.7" r="4.95" fill="#79b0d7"/>
<circle cx="425.9" cy="420.7" r="4.95" fill="#77aed6"/>
<circle cx="417.0" cy="427.7" r="4.95" fill="#7bb2d8"/>
<circle cx="428.9" cy="433.3" r="4.95" fill="#7eb4da"/>
<circle cx="431.1" cy="441.8" r="4.95" fill="#83b9dc"/>
<circle cx="427.8" cy="447.9" r="4.95" fill="#86bbdd"/>
<circle cx="417.0" cy="447.9" r="4.95" fill="#86bbdd"/>
<circle cx="448.0" cy="438.0" r="4.95" fill="#81b7db"/>
<circle cx="459.0" cy="435.7" r="4.95" fill="#80b6da"/>
<circle cx="456.9" cy="443.8" r="4.95" fill="#84b9dc"/>
<circle cx="475.0" cy="443.7" r="4.95" fill="#84b9dc"/>
<circle cx="484.6" cy="435.7" r="4.95" fill="#80b6da"/>
<circle cx="495.9" cy="438.5" r="4.95" fill="#81b7db"/>
<circle cx="490.9" cy="445.7" r="4.95" fill="#85badd"/>
<circle cx="503.8" cy="444.9" r="4.95" fill="#85badc"/>
<circle cx="499.8" cy="455.9" r="4.95" fill="#8bbfdf"/>
<circle cx="517.9" cy="443.8" r="4.95" fill="#84b9dc"/>
<circle cx="525.9" cy="439.9" r="4.95" fill="#82b8db"/>
<circle cx="514.0" cy="427.7" r="4.95" fill="#7bb2d8"/>
<circle cx="506.9" cy="415.5" r="4.95" fill="#75acd5"/>
<circle cx="522.9" cy="418.8" r="4.95" fill="#76aed6"/>
<circle cx="515.1" cy="401.9" r="4.95" fill="#6ea6d2"/>
<circle cx="505.7" cy="400.5" r="4.95" fill="#6ea6d1"/>
<circle cx="496.3" cy="400.5" r="4.95" fill="#6ea6d1"/>
<circle cx="529.0" cy="407.7" r="4.95" fill="#70a8d3"/>
<circle cx="550.8" cy="404.9" r="4.95" fill="#6fa7d2"/>
<circle cx="561.9" cy="418.8" r="4.95" fill="#76aed6"/>
<circle cx="560.9" cy="428.0" r="4.95" fill="#7bb2d8"/>
<circle cx="545.9" cy="424.9" r="4.95" fill="#7ab0d7"/>
<circle cx="536.0" cy="428.9" r="4.95" fill="#7cb2d8"/>
<circle cx="553.1" cy="434.7" r="4.95" fill="#7fb5da"/>
<circle cx="551.3" cy="442.7" r="4.95" fill="#83b9dc"/>
<circle cx="544.0" cy="444.9" r="4.95" fill="#85badc"/>
<circle cx="568.2" cy="439.9" r="4.95" fill="#82b8db"/>
<circle cx="533.9" cy="449.8" r="4.95" fill="#87bcde"/>
<circle cx="524.0" cy="455.9" r="4.95" fill="#8bbfdf"/>
<circle cx="521.2" cy="466.7" r="4.95" fill="#91c2e0"/>
<circle cx="553.1" cy="454.9" r="4.95" fill="#8abedf"/>
<circle cx="540.0" cy="465.7" r="4.95" fill="#90c2e0"/>
<circle cx="548.0" cy="469.0" r="4.95" fill="#92c3e0"/>
<circle cx="568.6" cy="455.9" r="4.95" fill="#8bbfdf"/>
<circle cx="568.6" cy="471.4" r="4.95" fill="#93c4e1"/>
<circle cx="560.2" cy="471.8" r="4.95" fill="#93c4e1"/>
<circle cx="508.1" cy="471.8" r="4.95" fill="#93c4e1"/>
<circle cx="531.1" cy="474.6" r="4.95" fill="#95c5e1"/>
<circle cx="535.8" cy="478.4" r="4.95" fill="#97c6e2"/>
<circle cx="547.5" cy="476.1" r="4.95" fill="#96c6e1"/>
<circle cx="504.3" cy="477.0" r="4.95" fill="#96c6e2"/>
<circle cx="493.5" cy="479.8" r="4.95" fill="#98c7e2"/>
<circle cx="491.2" cy="465.3" r="4.95" fill="#90c2e0"/>
<circle cx="480.8" cy="462.9" r="4.95" fill="#8ec1e0"/>
<circle cx="471.9" cy="463.8" r="4.95" fill="#8fc1e0"/>
<circle cx="462.1" cy="457.7" r="4.95" fill="#8cbfdf"/>
<circle cx="441.9" cy="454.6" r="4.95" fill="#8abede"/>
<circle cx="446.1" cy="460.6" r="4.95" fill="#8dc0df"/>
<circle cx="446.6" cy="469.0" r="4.95" fill="#92c3e0"/>
<circle cx="462.1" cy="474.2" r="4.95" fill="#95c5e1"/>
<circle cx="452.2" cy="476.5" r="4.95" fill="#96c6e1"/>
<circle cx="482.2" cy="470.4" r="4.95" fill="#93c4e1"/>
<circle cx="410.9" cy="456.3" r="4.95" fill="#8bbfdf"/>
<circle cx="410.4" cy="461.5" r="4.95" fill="#8ec1df"/>
<circle cx="419.8" cy="461.5" r="4.95" fill="#8ec1df"/>
<circle cx="418.4" cy="471.4" r="4.95" fill="#93c4e1"/>
<circle cx="425.9" cy="470.9" r="4.95" fill="#93c4e1"/>
<circle cx="410.9" cy="477.9" r="4.95" fill="#97c6e2"/>
<circle cx="427.8" cy="478.9" r="4.95" fill="#97c7e2"/>
<circle cx="435.3" cy="478.9" r="4.95" fill="#97c7e2"/>
<circle cx="441.4" cy="478.4" r="4.95" fill="#97c6e2"/>
<circle cx="469.1" cy="479.8" r="4.95" fill="#98c7e2"/>
<circle cx="563.0" cy="479.8" r="4.95" fill="#98c7e2"/>
<circle cx="566.7" cy="475.1" r="4.95" fill="#95c5e1"/>
<circle cx="577.9" cy="404.9" r="4.95" fill="#6fa7d2"/>
<circle cx="600.0" cy="406.8" r="4.95" fill="#70a8d3"/>
<circle cx="622.8" cy="413.9" r="4.95" fill="#74abd5"/>
<circle cx="592.9" cy="420.8" r="4.95" fill="#77aed6"/>
<circle cx="599.0" cy="428.9" r="4.95" fill="#7cb2d8"/>
<circle cx="621.9" cy="439.0" r="4.95" fill="#81b7db"/>
<circle cx="611.9" cy="446.0" r="4.95" fill="#85bbdd"/>
<circle cx="575.8" cy="439.9" r="4.95" fill="#82b8db"/>
<circle cx="592.9" cy="436.8" r="4.95" fill="#80b6da"/>
<circle cx="584.0" cy="462.7" r="4.95" fill="#8ec1e0"/>
<circle cx="593.9" cy="460.8" r="4.95" fill="#8dc0df"/>
<circle cx="574.2" cy="467.8" r="4.95" fill="#91c3e0"/>
<circle cx="607.0" cy="471.8" r="4.95" fill="#93c4e1"/>
<circle cx="616.9" cy="472.8" r="4.95" fill="#94c4e1"/>
<circle cx="588.7" cy="479.8" r="4.95" fill="#98c7e2"/>
<circle cx="608.9" cy="479.8" r="4.95" fill="#98c7e2"/>
<circle cx="654.0" cy="438.7" r="4.95" fill="#81b7db"/>
<circle cx="672.0" cy="426.9" r="4.95" fill="#7bb1d8"/>
<circle cx="685.9" cy="422.8" r="4.95" fill="#79afd7"/>
<circle cx="719.0" cy="432.9" r="4.95" fill="#7eb4d9"/>
<circle cx="664.8" cy="448.8" r="4.95" fill="#87bcdd"/>
<circle cx="703.9" cy="456.8" r="4.95" fill="#8bbfdf"/>
<circle cx="643.8" cy="466.9" r="4.95" fill="#91c2e0"/>
<circle cx="650.9" cy="475.6" r="4.95" fill="#95c5e1"/>
<circle cx="706.8" cy="481.0" r="4.95" fill="#99c7e2"/>
<circle cx="283.9" cy="521.0" r="4.95" fill="#d8d5c7"/>
<circle cx="283.9" cy="508.6" r="4.95" fill="#c3d1d1"/>
<circle cx="283.9" cy="493.0" r="4.95" fill="#a9ccde"/>
<circle cx="300.9" cy="481.1" r="4.95" fill="#99c7e2"/>
<circle cx="303.9" cy="511.0" r="4.95" fill="#c7d2cf"/>
<circle cx="319.0" cy="511.9" r="4.95" fill="#c8d2cf"/>
<circle cx="323.8" cy="488.0" r="4.95" fill="#a2cae0"/>
<circle cx="342.9" cy="495.8" r="4.95" fill="#adccdb"/>
<circle cx="330.9" cy="499.7" r="4.95" fill="#b4cdd8"/>
<circle cx="342.0" cy="504.9" r="4.95" fill="#bccfd4"/>
<circle cx="348.1" cy="481.4" r="4.95" fill="#9ac8e2"/>
<circle cx="358.9" cy="504.9" r="4.95" fill="#bccfd4"/>
<circle cx="367.8" cy="497.8" r="4.95" fill="#b1cdda"/>
<circle cx="354.9" cy="515.9" r="4.95" fill="#cfd4cb"/>
<circle cx="377.9" cy="518.7" r="4.95" fill="#d4d4c9"/>
<circle cx="404.9" cy="523.7" r="4.95" fill="#dcd3c2"/>
<circle cx="407.7" cy="539.0" r="4.95" fill="#ecc999"/>
<circle cx="395.9" cy="508.9" r="4.95" fill="#c3d1d1"/>
<circle cx="408.6" cy="510.0" r="4.95" fill="#c5d2d0"/>
<circle cx="403.0" cy="499.7" r="4.95" fill="#b4cdd8"/>
<circle cx="408.6" cy="500.7" r="4.95" fill="#b5cdd7"/>
<circle cx="379.0" cy="493.1" r="4.95" fill="#a9ccdd"/>
<circle cx="388.9" cy="490.8" r="4.95" fill="#a5cbdf"/>
<circle cx="380.0" cy="482.3" r="4.95" fill="#9bc8e2"/>
<circle cx="365.0" cy="480.9" r="4.95" fill="#99c7e2"/>
<circle cx="396.9" cy="483.8" r="4.95" fill="#9cc8e1"/>
<circle cx="405.3" cy="488.9" r="4.95" fill="#a3cbe0"/>
<circle cx="428.2" cy="481.4" r="4.95" fill="#9ac8e2"/>
<circle cx="417.0" cy="486.6" r="4.95" fill="#a0cae1"/>
<circle cx="409.0" cy="488.5" r="4.95" fill="#a2cae0"/>
<circle cx="441.4" cy="488.0" r="4.95" fill="#a2cae0"/>
<circle cx="432.9" cy="492.7" r="4.95" fill="#a9ccde"/>
<circle cx="417.9" cy="494.6" r="4.95" fill="#acccdc"/>
<circle cx="410.9" cy="500.7" r="4.95" fill="#b5cdd7"/>
<circle cx="433.9" cy="501.6" r="4.95" fill="#b7ced7"/>
<circle cx="425.9" cy="510.2" r="4.95" fill="#c5d2d0"/>
<circle cx="425.9" cy="519.4" r="4.95" fill="#d5d4c9"/>
<circle cx="443.0" cy="513.6" r="4.95" fill="#cbd3cd"/>
<circle cx="449.8" cy="506.8" r="4.95" fill="#bfd0d3"/>
<circle cx="450.0" cy="498.8" r="4.95" fill="#b2cdd9"/>
<circle cx="455.0" cy="485.8" r="4.95" fill="#9fc9e1"/>
<circle cx="460.9" cy="500.7" r="4.95" fill="#b5cdd7"/>
<circle cx="468.8" cy="482.8" r="4.95" fill="#9bc8e1"/>
<circle cx="481.8" cy="485.8" r="4.95" fill="#9fc9e1"/>
<circle cx="475.0" cy="495.8" r="4.95" fill="#adccdb"/>
<circle cx="486.0" cy="494.1" r="4.95" fill="#abccdd"/>
<circle cx="494.0" cy="481.4" r="4.95" fill="#9ac8e2"/>
<circle cx="495.9" cy="488.6" r="4.95" fill="#a2cae0"/>
<circle cx="479.0" cy="504.6" r="4.95" fill="#bccfd4"/>
<circle cx="464.9" cy="509.6" r="4.95" fill="#c4d2d0"/>
<circle cx="473.1" cy="513.5" r="4.95" fill="#cbd3cd"/>
<circle cx="489.9" cy="512.7" r="4.95" fill="#cad3ce"/>
<circle cx="499.6" cy="506.6" r="4.95" fill="#bfd0d3"/>
<circle cx="503.8" cy="492.7" r="4.95" fill="#a9ccde"/>
<circle cx="510.9" cy="495.8" r="4.95" fill="#adccdb"/>
<circle cx="506.7" cy="485.2" r="4.95" fill="#9ec9e1"/>
<circle cx="509.0" cy="480.5" r="4.95" fill="#98c7e2"/>
<circle cx="517.0" cy="484.7" r="4.95" fill="#9ec9e1"/>
<circle cx="525.0" cy="482.3" r="4.95" fill="#9bc8e2"/>
<circle cx="525.0" cy="491.7" r="4.95" fill="#a7cbdf"/>
<circle cx="534.8" cy="491.3" r="4.95" fill="#a6cbdf"/>
<circle cx="510.9" cy="509.6" r="4.95" fill="#c4d2d0"/>
<circle cx="530.1" cy="504.6" r="4.95" fill="#bccfd4"/>
<circle cx="539.0" cy="510.5" r="4.95" fill="#c6d2d0"/>
<circle cx="519.8" cy="516.2" r="4.95" fill="#d0d4cb"/>
<circle cx="502.9" cy="520.6" r="4.95" fill="#d7d5c8"/>
<circle cx="495.9" cy="526.7" r="4.95" fill="#e0d1bc"/>
<circle cx="517.9" cy="524.6" r="4.95" fill="#ddd3c1"/>
<circle cx="528.7" cy="523.4" r="4.95" fill="#dcd4c3"/>
<circle cx="520.0" cy="532.8" r="4.95" fill="#e8cca9"/>
<circle cx="540.9" cy="527.4" r="4.95" fill="#e1d1b9"/>
<circle cx="535.3" cy="538.4" r="4.95" fill="#ecc99a"/>
<circle cx="539.0" cy="544.8" r="4.95" fill="#f2c68b"/>
<circle cx="532.0" cy="552.8" r="4.95" fill="#fdbf78"/>
<circle cx="535.9" cy="561.7" r="4.95" fill="#fdb762"/>
<circle cx="495.9" cy="551.8" r="4.95" fill="#fcc07b"/>
<circle cx="492.8" cy="541.5" r="4.95" fill="#eec893"/>
<circle cx="466.0" cy="542.7" r="4.95" fill="#efc790"/>
<circle cx="433.9" cy="541.8" r="4.95" fill="#eec892"/>
<circle cx="453.9" cy="557.5" r="4.95" fill="#fdb966"/>
<circle cx="451.9" cy="524.9" r="4.95" fill="#ded3c0"/>
<circle cx="461.1" cy="523.9" r="4.95" fill="#dcd3c2"/>
<circle cx="549.8" cy="521.0" r="4.95" fill="#d8d5c7"/>
<circle cx="559.2" cy="516.6" r="4.95" fill="#d0d4cb"/>
<circle cx="567.7" cy="521.3" r="4.95" fill="#d9d5c7"/>
<circle cx="566.3" cy="536.8" r="4.95" fill="#ebca9e"/>
<circle cx="568.6" cy="547.6" r="4.95" fill="#f6c485"/>
<circle cx="549.8" cy="505.8" r="4.95" fill="#bed0d3"/>
<circle cx="558.3" cy="498.3" r="4.95" fill="#b1cdd9"/>
<circle cx="568.6" cy="503.5" r="4.95" fill="#bacfd5"/>
<circle cx="550.8" cy="494.1" r="4.95" fill="#abccdd"/>
<circle cx="555.5" cy="488.0" r="4.95" fill="#a2cae0"/>
<circle cx="563.0" cy="491.7" r="4.95" fill="#a7cbdf"/>
<circle cx="546.1" cy="485.6" r="4.95" fill="#9fc9e1"/>
<circle cx="567.7" cy="482.8" r="4.95" fill="#9bc8e1"/>
<circle cx="573.7" cy="484.2" r="4.95" fill="#9dc9e1"/>
<circle cx="588.7" cy="481.4" r="4.95" fill="#9ac8e2"/>
<circle cx="608.9" cy="481.4" r="4.95" fill="#9ac8e2"/>
<circle cx="585.0" cy="492.7" r="4.95" fill="#a9ccde"/>
<circle cx="573.7" cy="500.7" r="4.95" fill="#b5cdd7"/>
<circle cx="600.0" cy="493.6" r="4.95" fill="#aaccdd"/>
<circle cx="608.9" cy="495.5" r="4.95" fill="#adccdc"/>
<circle cx="620.2" cy="496.4" r="4.95" fill="#aeccdb"/>
<circle cx="601.9" cy="503.9" r="4.95" fill="#bbcfd5"/>
<circle cx="592.5" cy="505.4" r="4.95" fill="#bdd0d4"/>
<circle cx="619.7" cy="506.6" r="4.95" fill="#bfd0d3"/>
<circle cx="627.2" cy="512.7" r="4.95" fill="#cad3ce"/>
<circle cx="570.9" cy="517.1" r="4.95" fill="#d1d4ca"/>
<circle cx="578.9" cy="523.7" r="4.95" fill="#dcd3c2"/>
<circle cx="589.7" cy="520.8" r="4.95" fill="#d8d5c8"/>
<circle cx="606.1" cy="524.6" r="4.95" fill="#ddd3c1"/>
<circle cx="622.1" cy="520.6" r="4.95" fill="#d7d5c8"/>
<circle cx="638.0" cy="519.4" r="4.95" fill="#d5d4c9"/>
<circle cx="605.2" cy="534.5" r="4.95" fill="#e9cba4"/>
<circle cx="614.1" cy="538.7" r="4.95" fill="#ecc99a"/>
<circle cx="631.0" cy="527.4" r="4.95" fill="#e1d1b9"/>
<circle cx="630.0" cy="534.5" r="4.95" fill="#e9cba4"/>
<circle cx="638.0" cy="536.8" r="4.95" fill="#ebca9e"/>
<circle cx="647.9" cy="530.2" r="4.95" fill="#e4ceb1"/>
<circle cx="651.2" cy="524.9" r="4.95" fill="#ded3c0"/>
<circle cx="647.9" cy="508.6" r="4.95" fill="#c3d1d1"/>
<circle cx="637.1" cy="500.5" r="4.95" fill="#b5cdd8"/>
<circle cx="638.0" cy="488.9" r="4.95" fill="#a3cbe0"/>
<circle cx="649.0" cy="494.1" r="4.95" fill="#abccdd"/>
<circle cx="666.9" cy="484.7" r="4.95" fill="#9ec9e1"/>
<circle cx="661.0" cy="502.5" r="4.95" fill="#b8ced6"/>
<circle cx="673.0" cy="506.8" r="4.95" fill="#bfd0d3"/>
<circle cx="662.9" cy="516.8" r="4.95" fill="#d1d4cb"/>
<circle cx="685.2" cy="522.0" r="4.95" fill="#dad5c6"/>
<circle cx="667.6" cy="529.8" r="4.95" fill="#e4cfb2"/>
<circle cx="674.0" cy="533.7" r="4.95" fill="#e9cba6"/>
<circle cx="685.9" cy="533.7" r="4.95" fill="#e9cba6"/>
<circle cx="698.1" cy="500.8" r="4.95" fill="#b5cdd7"/>
<circle cx="723.9" cy="499.9" r="4.95" fill="#b4cdd8"/>
<circle cx="715.9" cy="521.3" r="4.95" fill="#d9d5c7"/>
<circle cx="726.7" cy="526.5" r="4.95" fill="#e0d1bc"/>
<circle cx="715.9" cy="535.9" r="4.95" fill="#eacaa1"/>
<circle cx="655.9" cy="546.9" r="4.95" fill="#f5c486"/>
<circle cx="667.6" cy="547.6" r="4.95" fill="#f6c485"/>
<circle cx="695.8" cy="553.1" r="4.95" fill="#fdbf77"/>
<circle cx="678.9" cy="558.4" r="4.95" fill="#fdb965"/>
<circle cx="715.9" cy="556.5" r="4.95" fill="#fdba6a"/>
<circle cx="578.9" cy="543.8" r="4.95" fill="#f1c68d"/>
<circle cx="592.0" cy="542.7" r="4.95" fill="#efc790"/>
<circle cx="603.7" cy="545.7" r="4.95" fill="#f4c589"/>
<circle cx="616.9" cy="549.0" r="4.95" fill="#f8c281"/>
<circle cx="591.5" cy="558.9" r="4.95" fill="#fdb865"/>
<circle cx="605.2" cy="558.4" r="4.95" fill="#fdb965"/>
<circle cx="628.6" cy="558.4" r="4.95" fill="#fdb965"/>
<circle cx="596.9" cy="562.8" r="4.95" fill="#fdb760"/>
<circle cx="758.9" cy="493.8" r="4.95" fill="#aaccdd"/>
<circle cx="763.9" cy="506.0" r="4.95" fill="#bed0d3"/>
<circle cx="751.9" cy="510.0" r="4.95" fill="#c5d2d0"/>
<circle cx="770.0" cy="528.8" r="4.95" fill="#e3cfb5"/>
<circle cx="779.0" cy="533.0" r="4.95" fill="#e8cca8"/>
<circle cx="790.0" cy="537.7" r="4.95" fill="#ebca9c"/>
<circle cx="801.0" cy="525.8" r="4.95" fill="#dfd2be"/>
<circle cx="819.9" cy="527.8" r="4.95" fill="#e1d0b8"/>
<circle cx="784.0" cy="548.7" r="4.95" fill="#f8c382"/>
<circle cx="878.9" cy="563.9" r="4.95" fill="#fdb65f"/>
<circle cx="786.9" cy="581.0" r="4.95" fill="#fcad52"/>
<circle cx="803.9" cy="583.8" r="4.95" fill="#fcac51"/>
<circle cx="786.9" cy="600.8" r="4.95" fill="#faa246"/>
<circle cx="813.8" cy="623.8" r="4.95" fill="#f7973d"/>
<circle cx="695.1" cy="560.2" r="4.95" fill="#fdb863"/>
<circle cx="723.0" cy="567.9" r="4.95" fill="#fdb45b"/>
<circle cx="700.1" cy="572.0" r="4.95" fill="#fdb258"/>
<circle cx="435.0" cy="568.8" r="4.95" fill="#fdb45a"/>
<circle cx="481.9" cy="580.9" r="4.95" fill="#fcad52"/>
<circle cx="527.8" cy="566.1" r="4.95" fill="#fdb55d"/>
<circle cx="535.9" cy="570.9" r="4.95" fill="#fdb359"/>
<circle cx="548.9" cy="566.9" r="4.95" fill="#fdb55c"/>
<circle cx="600.0" cy="572.8" r="4.95" fill="#fdb258"/>
<circle cx="618.5" cy="575.2" r="4.95" fill="#fcb056"/>
<circle cx="609.0" cy="590.8" r="4.95" fill="#fba84c"/>
<circle cx="578.9" cy="596.8" r="4.95" fill="#faa449"/>
<circle cx="524.0" cy="599.8" r="4.95" fill="#faa347"/>
<circle cx="490.9" cy="604.9" r="4.95" fill="#f9a044"/>
<circle cx="487.9" cy="617.1" r="4.95" fill="#f89a3f"/>
<circle cx="501.8" cy="618.8" r="4.95" fill="#f89a3f"/>
<circle cx="513.8" cy="621.8" r="4.95" fill="#f7983d"/>
<circle cx="623.0" cy="575.0" r="4.95" fill="#fdb156"/>
<circle cx="634.0" cy="585.8" r="4.95" fill="#fbab4f"/>
<circle cx="645.8" cy="589.8" r="4.95" fill="#fba84d"/>
<circle cx="650.8" cy="607.9" r="4.95" fill="#f99f43"/>
<circle cx="638.0" cy="618.7" r="4.95" fill="#f89a3f"/>
<circle cx="655.8" cy="569.8" r="4.95" fill="#fdb459"/>
<circle cx="679.9" cy="577.9" r="4.95" fill="#fcaf54"/>
<circle cx="725.9" cy="641.8" r="4.95" fill="#f58e36"/>
<circle cx="495.7" cy="753.6" r="4.95" fill="#d75a1e"/>
<circle cx="589.9" cy="724.0" r="4.95" fill="#e06521"/>
</g>
<path d="M249 414.3L914.2 571.7" stroke="#555" stroke-opacity="0.68" stroke-width="2.4" fill="none"/>
<text x="9.5" y="24" font-size="12" fill="#333333">페이지</text>
<text x="9.5" y="94" font-size="12" fill="#333333">필터</text>
<text x="9.5" y="179" font-size="12" fill="#333333">마크</text>
<text x="188.5" y="22.5" font-size="12" fill="#333333">열</text>
<text x="188.5" y="57.3" font-size="12" fill="#333333">행</text>
<text x="285" y="21.6" font-size="12" fill="#fff">평균(할인율)</text>
<text x="285" y="56.6" font-size="12" fill="#fff">합계(수익)</text>
<text x="174.5" y="106.6" font-size="19.5" fill="#4d4d4d">시트 1</text>
<text x="39.7" y="210.6" font-size="11" fill="#333333">원</text>
<text x="31" y="261" font-size="9.3" font-weight="bold" fill="#1a1a1a" text-anchor="middle">색상</text>
<text x="81" y="261" font-size="9.3" font-weight="bold" fill="#1a1a1a" text-anchor="middle">크기</text>
<text x="129.5" y="261" font-size="9.3" font-weight="bold" fill="#1a1a1a" text-anchor="middle">레이블</text>
<text x="31" y="309" font-size="9.3" font-weight="bold" fill="#1a1a1a" text-anchor="middle">세부 정보</text>
<text x="80.5" y="309" font-size="9.3" font-weight="bold" fill="#1a1a1a" text-anchor="middle">도구 설명</text>
<text x="45" y="342.6" font-size="12" fill="#fff">합계(수익)</text>
<text x="45" y="366.3" font-size="12" fill="#fff">고객명</text>
<text x="1553.5" y="94.6" font-size="12" fill="#333333">합계(수익)</text>
<text x="581.5" y="833.4" font-size="13" fill="#333" text-anchor="middle">평균 할인율</text>
<text x="-0.5" y="0.4" font-size="12.5" fill="#333" text-anchor="middle" transform="translate(192.6 456.3) rotate(-90)">수익</text>
<text x="1551" y="137.2" font-size="12.7" fill="#3a3a3a">-2,649,073</text>
<text x="1694" y="137.2" font-size="12.7" fill="#3a3a3a" text-anchor="end">4,126,796</text>
<rect x="170" y="11" width="2" height="2" fill="#505050"/><rect x="170" y="14" width="2" height="8" fill="#505050"/>
<rect x="174" y="11" width="2" height="2" fill="#505050"/><rect x="174" y="14" width="2" height="8" fill="#505050"/>
<rect x="178" y="11" width="2" height="2" fill="#505050"/><rect x="178" y="14" width="2" height="8" fill="#505050"/>
<rect x="169" y="47" width="2" height="2" fill="#505050"/><rect x="172" y="47" width="9" height="2" fill="#505050"/>
<rect x="169" y="51" width="2" height="2" fill="#505050"/><rect x="172" y="51" width="9" height="2" fill="#505050"/>
<rect x="169" y="55" width="2" height="2" fill="#505050"/><rect x="172" y="55" width="9" height="2" fill="#505050"/>
<circle cx="26.9" cy="205.9" r="5.6" fill="none" stroke="#333" stroke-width="1.1"/>
<path d="M136 204h7l-3.5 4z" fill="#555"/>
<circle cx="27.2" cy="234.1" r="3.2" fill="#8f7ba9"/>
<circle cx="34.8" cy="234.1" r="3.2" fill="#ef7c8c"/>
<circle cx="27.2" cy="241.7" r="3.2" fill="#efab89"/>
<circle cx="34.8" cy="241.7" r="3.2" fill="#7fa3ac"/>
<circle cx="19.2" cy="334.9" r="3.2" fill="#8f7ba9"/>
<circle cx="26.8" cy="334.9" r="3.2" fill="#ef7c8c"/>
<circle cx="19.2" cy="342.5" r="3.2" fill="#efab89"/>
<circle cx="26.8" cy="342.5" r="3.2" fill="#7fa3ac"/>
<circle cx="30.6" cy="281.1" r="1.9" fill="#333"/>
<path d="M30.6 282.3V290.3M25.3 290.3V287.5H35.9V290.3" stroke="#444" stroke-width="0.9" fill="none"/>
<circle cx="25.3" cy="291.8" r="1.35" fill="#fcfcfc" stroke="#333" stroke-width="0.9"/>
<circle cx="30.6" cy="291.8" r="1.35" fill="#fcfcfc" stroke="#333" stroke-width="0.9"/>
<circle cx="35.9" cy="291.8" r="1.35" fill="#fcfcfc" stroke="#333" stroke-width="0.9"/>
<circle cx="22.4" cy="357.4" r="1.9" fill="#333"/>
<path d="M22.4 358.6V366.6M17.1 366.6V363.8H27.7V366.6" stroke="#444" stroke-width="0.9" fill="none"/>
<circle cx="17.1" cy="368.1" r="1.35" fill="#fcfcfc" stroke="#333" stroke-width="0.9"/>
<circle cx="22.4" cy="368.1" r="1.35" fill="#fcfcfc" stroke="#333" stroke-width="0.9"/>
<circle cx="27.7" cy="368.1" r="1.35" fill="#fcfcfc" stroke="#333" stroke-width="0.9"/>
<circle cx="82.0" cy="237.2" r="5.8" fill="none" stroke="#333" stroke-width="1"/>
<circle cx="77.9" cy="241.0" r="5.0" fill="#fcfcfc"/>
<circle cx="77.9" cy="241.0" r="3.7" fill="#fcfcfc" stroke="#333" stroke-width="1"/>
<path d="M76.4 239.2l2.9 2.7" stroke="#333" stroke-width="0.9"/>
<rect x="122.9" y="231.8" width="11.4" height="11.4" fill="none" stroke="#2a2a2a" stroke-width="1.2"/>
<text x="128.6" y="241.1" font-size="10" fill="#222" text-anchor="middle" style="font-family:'Liberation Serif',serif">T</text>
<path d="M74.5 279.7h13.3v8.3h-6.6l-3.6 3.4l-0.6-3.4h-2.5z" fill="none" stroke="#333" stroke-width="1.1" stroke-linejoin="miter"/>
</svg>
</body></html>
